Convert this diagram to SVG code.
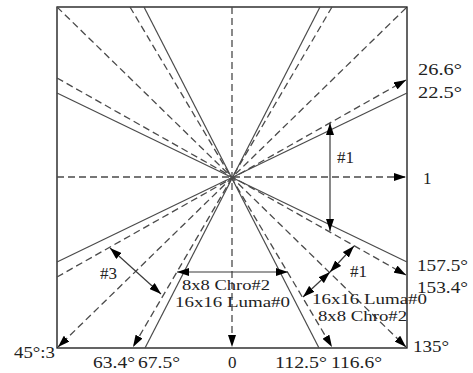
<svg xmlns="http://www.w3.org/2000/svg" width="473" height="373" viewBox="0 0 473 373">
<defs>
<marker id="ah" markerUnits="userSpaceOnUse" markerWidth="12" markerHeight="8" refX="12" refY="4" orient="auto-start-reverse" viewBox="0 0 12 8">
<path d="M0,0 L12,4 L0,8 z" fill="#000"/>
</marker>
<style>
.d{stroke:#4a4a4a;stroke-width:1.3;stroke-dasharray:7 4;fill:none}
.s{stroke:#4a4a4a;stroke-width:1.2;fill:none}
.a{stroke:#3a3a3a;stroke-width:1.2;fill:none}
.t{font-family:"Liberation Serif","Times New Roman",serif;font-size:17px;fill:#222}
.m{font-size:15.5px}
</style>
</defs>
<rect x="0" y="0" width="473" height="373" fill="#fff"/>
<g id="frame">
<rect x="57" y="7" width="350" height="341" fill="none" stroke="#111" stroke-width="1.3"/>
</g>
<g id="connectors">
<line class="d" x1="57" y1="177" x2="406" y2="177" marker-end="url(#ah)"/>
<line class="d" x1="232" y1="7" x2="232" y2="347" marker-end="url(#ah)"/>
<line class="d" x1="406" y1="8" x2="58" y2="347" marker-end="url(#ah)"/>
<line class="d" x1="57" y1="7" x2="406" y2="347" marker-end="url(#ah)"/>
<line class="d" x1="57" y1="277" x2="406" y2="80" marker-end="url(#ah)"/>
<line class="d" x1="57" y1="78" x2="406" y2="275" marker-end="url(#ah)"/>
<line class="d" x1="332" y1="7" x2="133" y2="347" marker-end="url(#ah)"/>
<line class="d" x1="130" y1="7" x2="332" y2="347" marker-end="url(#ah)"/>
<line class="s" x1="57" y1="262" x2="407" y2="93"/>
<line class="s" x1="57" y1="93" x2="407" y2="262"/>
<line class="s" x1="320" y1="7" x2="145" y2="348"/>
<line class="s" x1="144" y1="7" x2="319" y2="348"/>
<line class="a" x1="330" y1="123" x2="330" y2="231" marker-start="url(#ah)" marker-end="url(#ah)"/>
<line class="a" x1="354" y1="246" x2="330" y2="272" marker-start="url(#ah)" marker-end="url(#ah)"/>
<line class="a" x1="330" y1="272" x2="303" y2="297" marker-start="url(#ah)" marker-end="url(#ah)"/>
<line class="a" x1="110" y1="248" x2="161" y2="294" marker-start="url(#ah)" marker-end="url(#ah)"/>
<line class="a" x1="177" y1="272" x2="288" y2="272" marker-start="url(#ah)" marker-end="url(#ah)"/>
</g>
<g id="labels">
<text class="t" x="418" y="75" textLength="44" lengthAdjust="spacingAndGlyphs">26.6°</text>
<text class="t" x="418" y="98" textLength="44" lengthAdjust="spacingAndGlyphs">22.5°</text>
<text class="t" x="423" y="184">1</text>
<text class="t" x="417" y="271" textLength="51" lengthAdjust="spacingAndGlyphs">157.5°</text>
<text class="t" x="417" y="293" textLength="51" lengthAdjust="spacingAndGlyphs">153.4°</text>
<text class="t" x="413" y="352" textLength="36" lengthAdjust="spacingAndGlyphs">135°</text>
<text class="t" x="14" y="358" textLength="41" lengthAdjust="spacingAndGlyphs">45°:3</text>
<text class="t" x="93" y="368" textLength="42" lengthAdjust="spacingAndGlyphs">63.4°</text>
<text class="t" x="138" y="368" textLength="42" lengthAdjust="spacingAndGlyphs">67.5°</text>
<text class="t" x="228" y="368">0</text>
<text class="t" x="275" y="368" textLength="52" lengthAdjust="spacingAndGlyphs">112.5°</text>
<text class="t" x="331" y="368" textLength="51" lengthAdjust="spacingAndGlyphs">116.6°</text>
<text class="t" x="337" y="163">#1</text>
<text class="t" x="350" y="277">#1</text>
<text class="t" x="100" y="279">#3</text>
<text class="t m" x="182" y="290" textLength="88" lengthAdjust="spacingAndGlyphs">8x8 Chro#2</text>
<text class="t m" x="175" y="307" textLength="115" lengthAdjust="spacingAndGlyphs">16x16 Luma#0</text>
<text class="t m" x="312" y="304" textLength="115" lengthAdjust="spacingAndGlyphs">16x16 Luma#0</text>
<text class="t m" x="318" y="321" textLength="89" lengthAdjust="spacingAndGlyphs">8x8 Chro#2</text>
</g>
</svg>
